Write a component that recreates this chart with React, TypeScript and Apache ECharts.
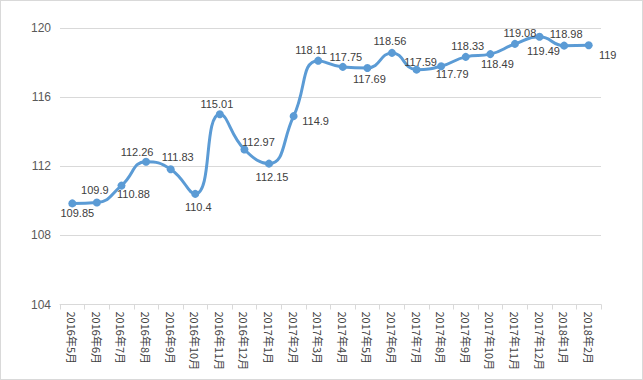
import React, { useEffect, useRef } from "react";
import * as echarts from "echarts";

const categories = [
  "2016年5月", "2016年6月", "2016年7月", "2016年8月", "2016年9月", "2016年10月",
  "2016年11月", "2016年12月", "2017年1月", "2017年2月", "2017年3月", "2017年4月",
  "2017年5月", "2017年6月", "2017年7月", "2017年8月", "2017年9月", "2017年10月",
  "2017年11月", "2017年12月", "2018年1月", "2018年2月",
];

const values = [
  109.85, 109.9, 110.88, 112.26, 111.83, 110.4, 115.01, 112.97, 112.15, 114.9,
  118.11, 117.75, 117.69, 118.56, 117.59, 117.79, 118.33, 118.49, 119.08, 119.49,
  118.98, 119,
];

const yMin = 104;
const yMax = 120;
const yStep = 4;

// label placement relative to each point (style, not data)
const labelOffsets: [number, number][] = [
  [5, 10], [-2, -13], [12, 8], [-9, -10], [7, -12], [3, 13], [-3, -10], [14, -7],
  [3, 13], [22, 5], [-7, -11], [3, -10], [2, 11], [-2, -12], [4, -8], [11, 8],
  [2, -11], [7, 10], [5, -11], [4, 14], [2, -12], [19, 10],
];

export default function App() {
  const ref = useRef<HTMLDivElement>(null);
  useEffect(() => {
    document.body.style.margin = "0";
    const chart = echarts.init(ref.current!, undefined, { renderer: "svg" });
    chart.setOption({
      animation: false,
      backgroundColor: "#ffffff",
      grid: { left: 59, right: 41, top: 27, bottom: 74.5 },
      xAxis: {
        type: "category",
        data: categories,
        boundaryGap: true,
        axisLine: { show: true, lineStyle: { color: "#d9d9d9", width: 1 } },
        axisTick: { show: true, length: 5, lineStyle: { color: "#d9d9d9" } },
        axisLabel: {
          rotate: -90,
          interval: 0,
          margin: 7,
          color: "#404040",
          fontSize: 11,
          fontFamily: "Noto Sans CJK SC",
        },
      },
      yAxis: {
        type: "value",
        min: yMin,
        max: yMax,
        interval: yStep,
        axisLine: { show: false },
        axisTick: { show: false },
        axisLabel: {
          color: "#595959",
          fontSize: 12,
          margin: 9,
          fontFamily: "Liberation Sans",
        },
        splitLine: { lineStyle: { color: "#d9d9d9", width: 1 } },
      },
      series: [
        {
          type: "line",
          data: values.map((v, i) => ({
            value: v,
            label: { offset: labelOffsets[i] },
          })),
          smooth: 0.5,
          symbol: "circle",
          symbolSize: 8,
          lineStyle: { color: "#5B9BD5", width: 3 },
          itemStyle: { color: "#5B9BD5" },
          label: {
            show: true,
            position: "inside",
            align: "center",
            verticalAlign: "middle",
            color: "#404040",
            fontSize: 11,
            fontFamily: "Liberation Sans Narrow, Liberation Sans",
          },
        },
      ],
    });
    return () => chart.dispose();
  }, []);
  return (
    <div
      ref={ref}
      style={{
        position: "absolute",
        left: 0,
        top: 0,
        width: 643,
        height: 380,
        border: "1px solid #d9d9d9",
        boxSizing: "border-box",
      }}
    />
  );
}
